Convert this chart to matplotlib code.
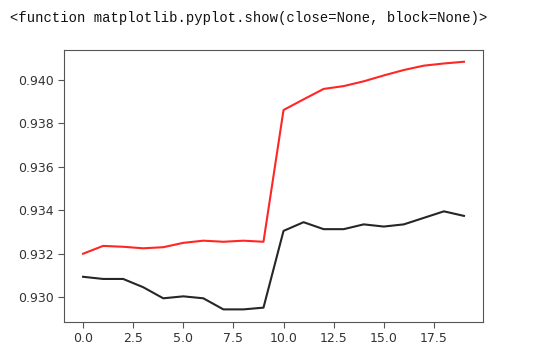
import matplotlib
matplotlib.use("Agg")
import matplotlib.pyplot as plt

# epochs and the two score curves
epochs = list(range(20))
red_scores = [0.93200, 0.93236, 0.93232, 0.93225, 0.93230, 0.93250, 0.93260, 0.93255,
              0.93260, 0.93255, 0.93861, 0.93910, 0.93958, 0.93971, 0.93993, 0.94020,
              0.94045, 0.94065, 0.94075, 0.94083]
black_scores = [0.93094, 0.93084, 0.93084, 0.93046, 0.92995, 0.93004, 0.92995, 0.92944,
                0.92944, 0.92952, 0.93305, 0.93345, 0.93313, 0.93313, 0.93335, 0.93325,
                0.93335, 0.93365, 0.93395, 0.93374]
yticks = [0.930, 0.932, 0.934, 0.936, 0.938, 0.940]

W, H = 553, 359
fig = plt.figure(figsize=(W / 100, H / 100), dpi=100)
fig.text(10 / W, 1 - 18 / H, "<function matplotlib.pyplot.show(close=None, block=None)>",
         family="Liberation Mono", fontsize=10, va="center", ha="left", color="#111111")

ax = fig.add_axes([64 / W, 1 - 322 / H, 419 / W, 272 / H])
ax.plot(epochs, red_scores, color="r", alpha=0.85, lw=1.5)
ax.plot(epochs, black_scores, color="k", alpha=0.85, lw=1.5)

ax.set_yticks(yticks)
ax.set_yticklabels(["%.3f" % v for v in yticks])
ax.set_ylim(0.92886, 0.94137)
for s in ax.spines.values():
    s.set_color("#555555")
ax.tick_params(labelsize=9, colors="#333333", length=4)
ax.tick_params(color="#555555")

fig.savefig("out.png", dpi=100)
